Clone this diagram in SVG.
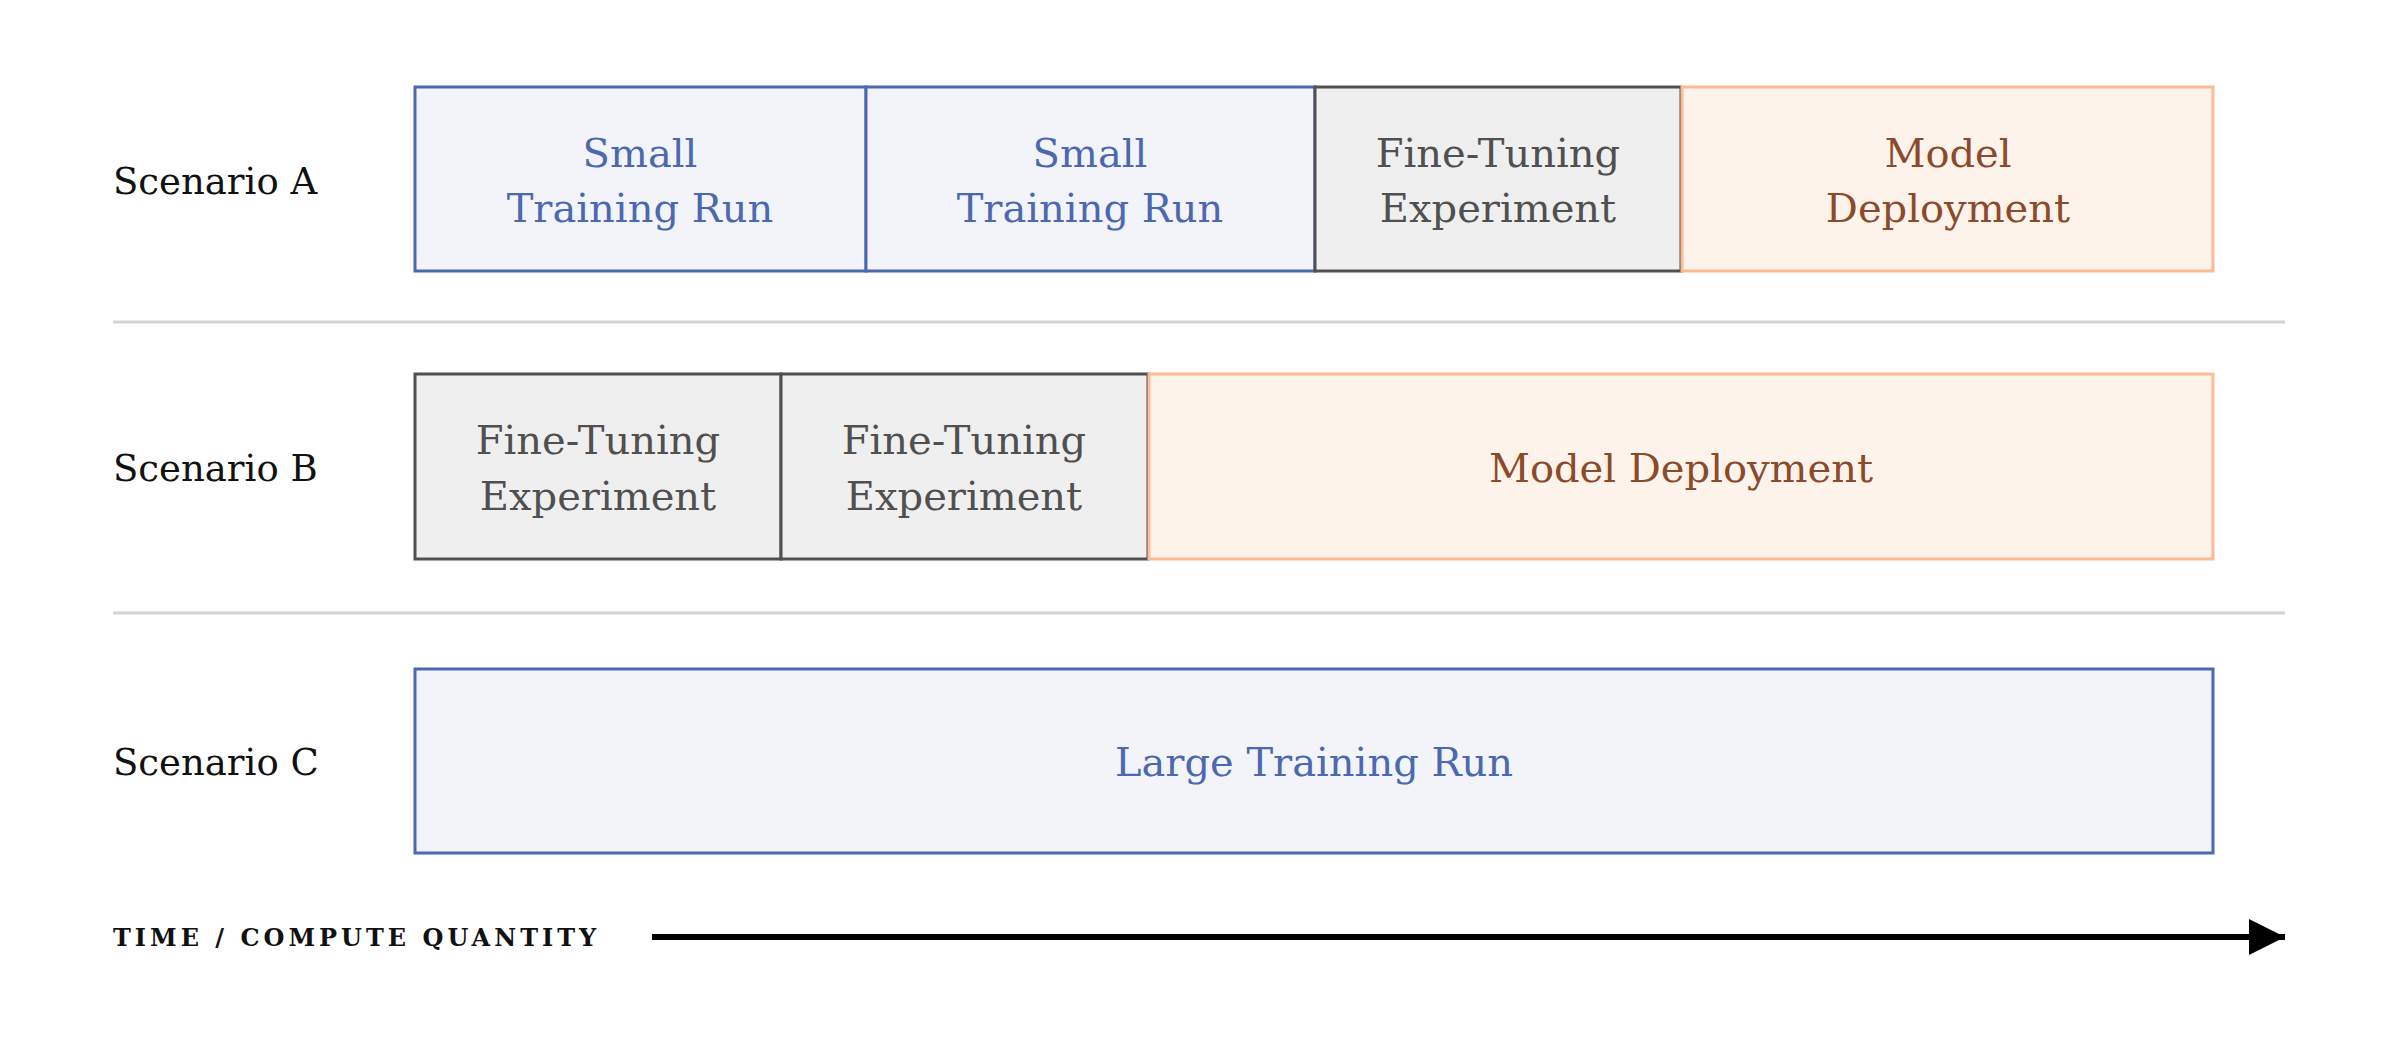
<svg xmlns="http://www.w3.org/2000/svg" width="2400" height="1052" viewBox="0 0 2400 1052">
<style>
text{font-family:"DejaVu Serif","Liberation Serif",serif;dominant-baseline:central;}
.lbl{font-size:37px;fill:#111;}
.t{font-size:40px;text-anchor:middle;}
.blue rect{fill:#F2F4F9;stroke:#4C68B0;stroke-width:3;}
.blue text{fill:#4C68B0;}
.gray rect{fill:#EFEFEF;stroke:#505050;stroke-width:3;}
.gray text{fill:#505050;}
.or rect{fill:#FEF3EA;stroke:#FDBB94;stroke-width:3;}
.or text{fill:#8B4A2A;}
.sep{stroke:#D3D3D3;stroke-width:3;}
</style>
<defs><marker id="ah" markerWidth="10" markerHeight="10" refX="9" refY="5" orient="auto" markerUnits="userSpaceOnUse" viewBox="0 0 10 10"><path d="M0,0 L10,5 L0,10 z" fill="#000"/></marker>
<marker id="ah2" viewBox="0 0 10 10" refX="10" refY="5" markerWidth="36" markerHeight="36" markerUnits="userSpaceOnUse" orient="auto"><path d="M0,0 L10,5 L0,10 z" fill="#000"/></marker></defs>
<rect width="2400" height="1052" fill="#fff"/>
<text class="lbl" x="113" y="181">Scenario A</text>
<text class="lbl" x="113" y="468">Scenario B</text>
<text class="lbl" x="113" y="762">Scenario C</text>
<line class="sep" x1="113" y1="322" x2="2285" y2="322"/>
<line class="sep" x1="113" y1="613" x2="2285" y2="613"/>
<g id="a1" class="blue"><rect x="415" y="87" width="451" height="184"/><text class="t" x="640" y="153">Small</text><text class="t" x="640" y="208">Training Run</text></g>
<g id="a2" class="blue"><rect x="866" y="87" width="449" height="184"/><text class="t" x="1090" y="153">Small</text><text class="t" x="1090" y="208">Training Run</text></g>
<g id="a3" class="gray"><rect x="1315" y="87" width="366" height="184"/><text class="t" x="1498" y="153">Fine-Tuning</text><text class="t" x="1498" y="208">Experiment</text></g>
<g id="a4" class="or"><rect x="1682" y="87" width="531" height="184"/><text class="t" x="1948" y="153">Model</text><text class="t" x="1948" y="208">Deployment</text></g>
<g id="b1" class="gray"><rect x="415" y="374" width="366" height="185"/><text class="t" x="598" y="440">Fine-Tuning</text><text class="t" x="598" y="496">Experiment</text></g>
<g id="b2" class="gray"><rect x="781" y="374" width="367" height="185"/><text class="t" x="964" y="440">Fine-Tuning</text><text class="t" x="964" y="496">Experiment</text></g>
<g id="b3" class="or"><rect x="1149" y="374" width="1064" height="185"/><text class="t" x="1681" y="468">Model Deployment</text></g>
<g id="c1" class="blue"><rect x="415" y="669" width="1798" height="184"/><text class="t" x="1314" y="762">Large Training Run</text></g>
<text x="113" y="937" style="font-size:24px;font-weight:bold;letter-spacing:4px;fill:#111">TIME / COMPUTE QUANTITY</text>
<g id="connectors"><line x1="652" y1="937" x2="2285" y2="937" stroke="#000" stroke-width="6" marker-end="url(#ah2)"/></g>
</svg>
